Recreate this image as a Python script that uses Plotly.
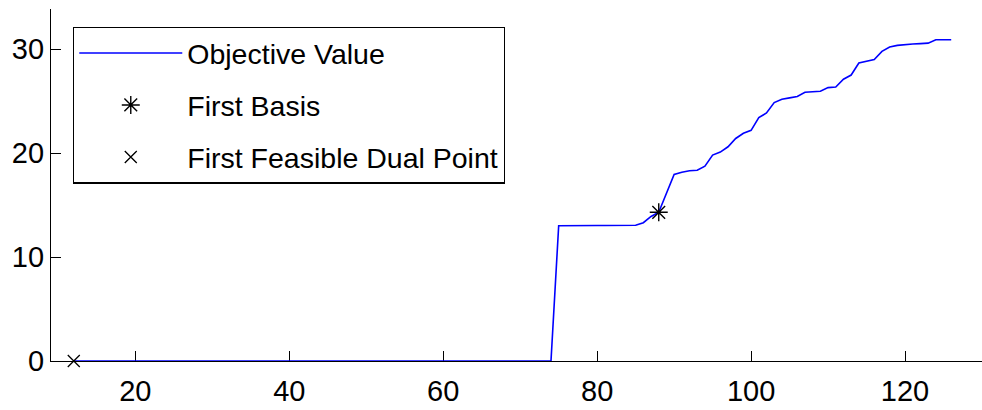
import plotly.graph_objects as go

# Iteration numbers and objective values
iterations = [12] + list(range(74, 127))
objective = [0.0,
             0.0, 13.0, 13.02, 13.02, 13.03, 13.03, 13.03, 13.03, 13.03, 13.03,
             13.03, 13.05, 13.3, 13.9, 14.3, 16.1, 17.94, 18.15, 18.3, 18.35,
             18.74, 19.8, 20.09, 20.6, 21.4, 21.9, 22.18, 23.4, 23.85, 24.85,
             25.17, 25.3, 25.43, 25.84, 25.9, 25.94, 26.29, 26.35, 27.1, 27.5,
             28.65, 28.82, 29.0, 29.77, 30.2, 30.35, 30.44, 30.48, 30.52, 30.57,
             30.89, 30.89, 30.89]

first_basis_x = [88]
first_basis_y = [14.3]
first_dual_x = [12]
first_dual_y = [0.0]

x_ticks = [20, 40, 60, 80, 100, 120]
y_ticks = [0, 10, 20, 30]

FONT = "Liberation Sans, Arial, Helvetica, sans-serif"

fig = go.Figure()
fig.add_trace(go.Scatter(
    x=iterations, y=objective, mode="lines", name="Objective Value",
    line=dict(color="#0000ff", width=1.6), cliponaxis=False, legendgroup="a"))
fig.add_trace(go.Scatter(
    x=first_basis_x, y=first_basis_y, mode="markers", name="First Basis",
    marker=dict(symbol="asterisk-open", size=15, color="black",
                line=dict(color="black", width=1.4)),
    cliponaxis=False, legendgroup="b"))
fig.add_trace(go.Scatter(
    x=first_dual_x, y=first_dual_y, mode="markers", name="First Feasible Dual Point",
    marker=dict(symbol="x-thin-open", size=12, color="black",
                line=dict(color="black", width=1.3)),
    cliponaxis=False, legendgroup="c"))

axis_common = dict(
    showgrid=False, zeroline=False, showline=True, linecolor="black",
    linewidth=1.2, ticks="inside", ticklen=10, tickwidth=1.1, tickcolor="black",
    layer="below traces", tickfont=dict(family=FONT, size=29, color="black"))

fig.update_layout(
    width=982, height=410,
    margin=dict(l=51, r=0, t=9, b=49),
    paper_bgcolor="white", plot_bgcolor="white",
    font=dict(family=FONT, color="black"),
    xaxis=dict(range=[9.04, 130], tickvals=x_ticks, ticklabelstandoff=4, **axis_common),
    yaxis=dict(range=[0, 33.85], tickvals=y_ticks, **axis_common),
    showlegend=True,
    legend=dict(
        x=0.0236, y=0.95, xanchor="left", yanchor="top",
        bgcolor="white", bordercolor="black", borderwidth=1.3,
        font=dict(family=FONT, size=28.5, color="black"),
        itemwidth=103, tracegroupgap=12, traceorder="grouped"),
)

fig.write_html("out.html")
